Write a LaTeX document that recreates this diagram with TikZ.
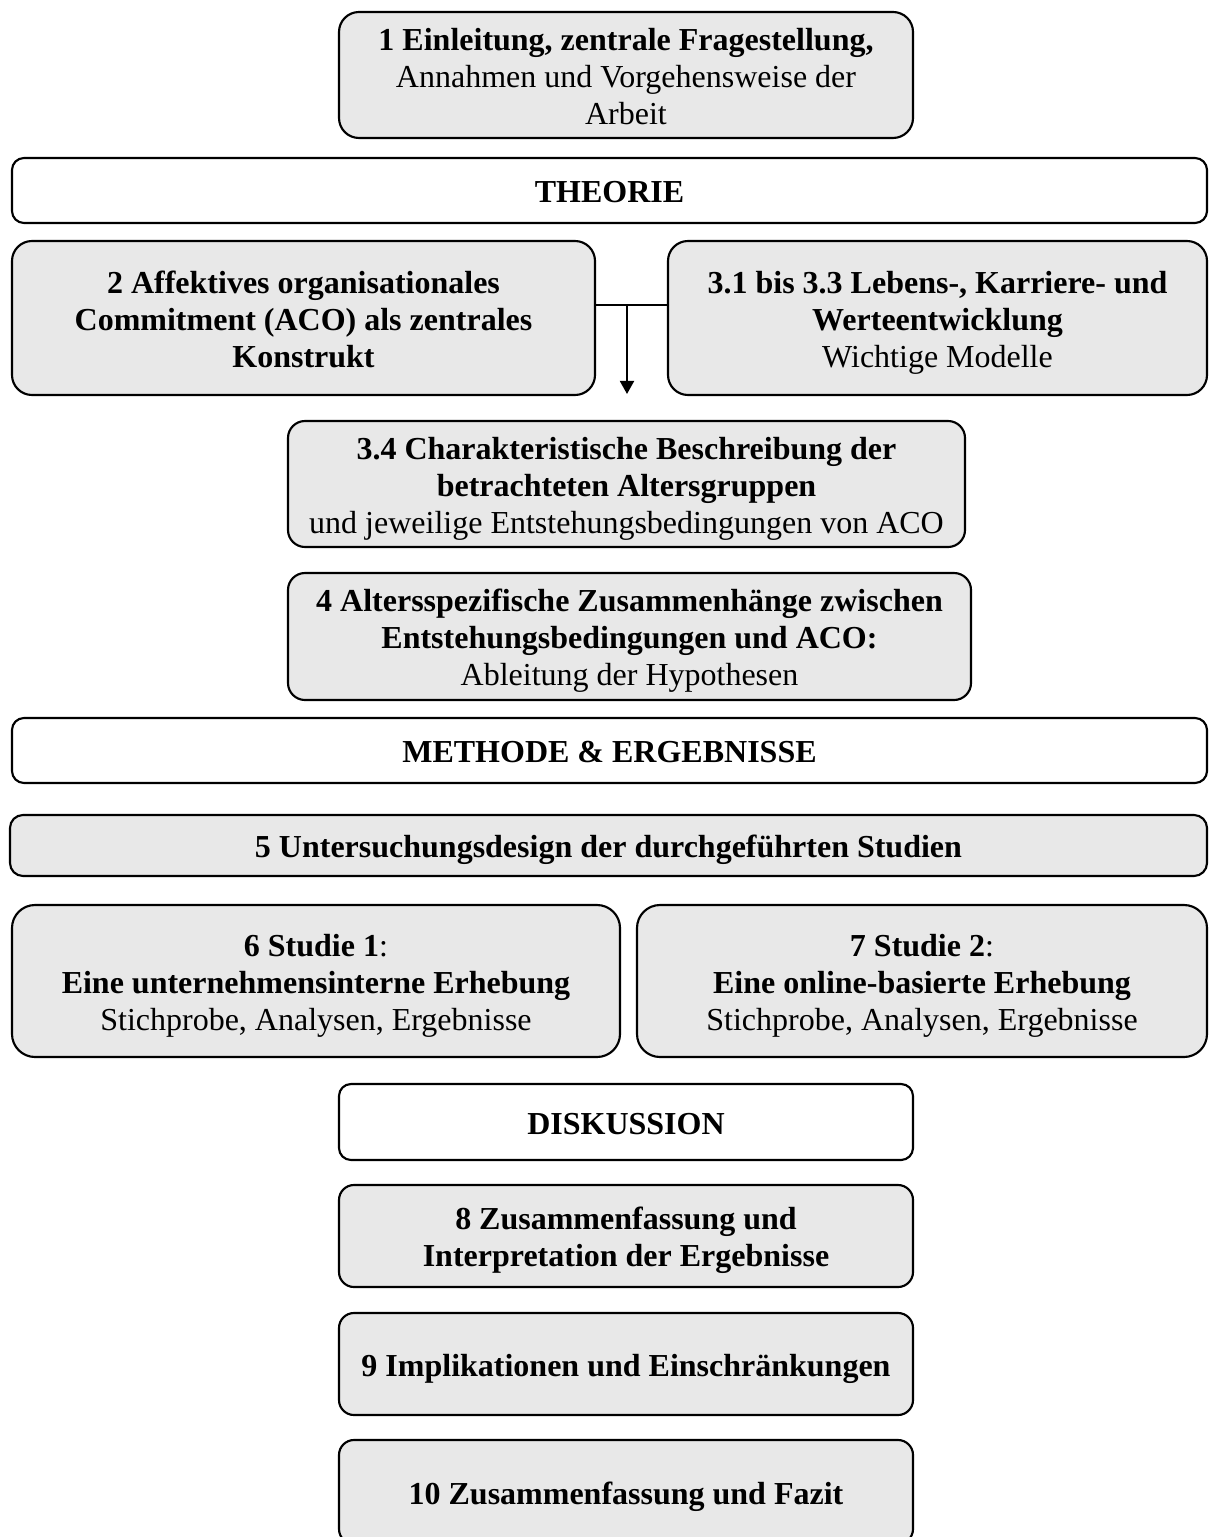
\documentclass[tikz,border=0pt]{standalone}
\usepackage{fontspec}
\setmainfont{Liberation Serif}
\usepackage{tikz}
\usetikzlibrary{arrows.meta}

\newdimen\px
\px=0.375pt
\definecolor{boxgray}{HTML}{E8E8E8}
\newcommand\tstrut{\rule{0pt}{11.9pt}}
\newcommand\bstrut{\rule[-2.6pt]{0pt}{2.6pt}}

\tikzset{
  chap/.style={draw, line width=0.8pt, fill=boxgray, rounded corners=20\px, align=center,
    inner sep=0pt, font=\fontsize{12pt}{13.9pt}\selectfont},
  part/.style={chap, fill=white, rounded corners=12\px},
}

\begin{document}
\begin{tikzpicture}[x=\px,y=-\px]
        \clip (0,0) rectangle (1208,1537);
        \useasboundingbox (0,0) rectangle (1208,1537);
        \node[chap, minimum width=574\px, minimum height=126\px] (c1) at (626,75) {\tstrut\textbf{1 Einleitung, zentrale Fragestellung,}\\ Annahmen und Vorgehensweise der\\ Arbeit\bstrut};
        \node[part, minimum width=1195\px, minimum height=65\px] (theorie) at (609.5,190.5) {\tstrut\textbf{THEORIE}\bstrut};
        \node[chap, minimum width=583\px, minimum height=154\px] (c2) at (303.5,318) {\tstrut\textbf{2 Affektives organisationales}\\ \textbf{Commitment (ACO) als zentrales}\\ \textbf{Konstrukt}\bstrut};
        \node[chap, minimum width=539\px, minimum height=154\px] (c3) at (937.5,318) {\tstrut\textbf{3.1 bis 3.3 Lebens-, Karriere- und}\\ \textbf{Werteentwicklung}\\ Wichtige Modelle\bstrut};
        \node[chap, minimum width=677\px, minimum height=126\px, rounded corners=17\px] (c34) at (626.5,484) {\tstrut\textbf{3.4 Charakteristische Beschreibung der}\\ \textbf{betrachteten Altersgruppen}\\ und jeweilige Entstehungsbedingungen von ACO\bstrut};
        \node[chap, minimum width=683\px, minimum height=127\px, rounded corners=17\px] (c4) at (629.5,636.5) {\tstrut\textbf{4 Altersspezifische Zusammenhänge zwischen}\\ \textbf{Entstehungsbedingungen und ACO:}\\ Ableitung der Hypothesen\bstrut};
        \node[part, minimum width=1195\px, minimum height=65\px] (methode) at (609.5,750.5) {\tstrut\textbf{METHODE \& ERGEBNISSE}\bstrut};
        \node[chap, minimum width=1197\px, minimum height=61\px, rounded corners=13\px] (c5) at (608.5,845.5) {\tstrut\textbf{5 Untersuchungsdesign der durchgeführten Studien}\bstrut};
        \node[chap, minimum width=608\px, minimum height=152\px, rounded corners=23\px] (c6) at (316,981) {\tstrut\textbf{6 Studie 1}:\\ \textbf{Eine unternehmensinterne Erhebung}\\ Stichprobe, Analysen, Ergebnisse\bstrut};
        \node[chap, minimum width=570\px, minimum height=152\px, rounded corners=23\px] (c7) at (922,981) {\tstrut\textbf{7 Studie 2}:\\ \textbf{Eine online-basierte Erhebung}\\ Stichprobe, Analysen, Ergebnisse\bstrut};
        \node[part, minimum width=574\px, minimum height=76\px] (diskussion) at (626,1122) {\tstrut\textbf{DISKUSSION}\bstrut};
        \node[chap, minimum width=574\px, minimum height=102\px, rounded corners=15\px] (c8) at (626,1236) {\tstrut\textbf{8 Zusammenfassung und}\\ \textbf{Interpretation der Ergebnisse}\bstrut};
        \node[chap, minimum width=574\px, minimum height=102\px, rounded corners=15\px] (c9) at (626,1364) {\tstrut\textbf{9 Implikationen und Einschränkungen}\bstrut};
        \node[chap, minimum width=574\px, minimum height=104\px, rounded corners=15\px] (c10) at (626,1492) {\tstrut\textbf{10 Zusammenfassung und Fazit}\bstrut};
        % join of 2 and 3.1-3.3 down to 3.4
        \coordinate (join) at (627,305);
        \coordinate (tip) at (627,394);
        \draw[line width=0.8pt] (c2.east |- join) -- (c3.west |- join);
        \draw[line width=0.8pt, -{Triangle[width=5.25pt,length=4.9pt]}] (join) -- (tip);
    \end{tikzpicture}
\end{document}
